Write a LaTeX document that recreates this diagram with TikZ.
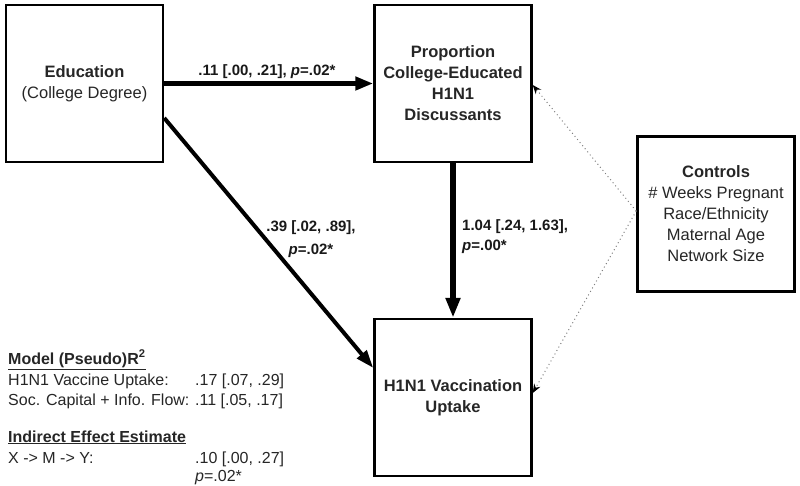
\documentclass[tikz,border=0pt]{standalone}
\usepackage{fontspec}
\setmainfont{Liberation Sans}
\usetikzlibrary{arrows.meta,calc}
\begin{document}
\begin{tikzpicture}[x=1pt,y=-1pt,
  box/.style={draw, line width=2.5pt, minimum width=157pt, minimum height=157pt,
    inner sep=0pt, align=center, text=black!85, font=\fontsize{16.5}{21}\selectfont},
  boldbox/.style={box, font=\fontsize{16.5}{21}\selectfont\bfseries},
  lab/.style={inner sep=0pt, text=black!90, font=\fontsize{15}{22}\selectfont\bfseries},
  mt/.style={inner sep=0pt, anchor=base west, text=black!85, font=\fontsize{16}{20}\selectfont},
  dotarrow/.style={draw=black!50, line width=1pt, dash pattern=on 1pt off 3pt,
    -{Stealth[length=9pt,width=7pt,color=black]}}
]
\useasboundingbox (0,0) rectangle (800,486);

% boxes
\node[box] (edu) at (84.5,83.5) {\textbf{Education}\\(College Degree)};
\node[boldbox] (prop) at (453,83.5) {Proportion\\College-Educated\\H1N1\\Discussants};
\node[boldbox] (vac) at (453,397.5) {H1N1 Vaccination\\Uptake};
\node[box, minimum height=155pt] (ctrl) at (716,214)
  {\textbf{Controls}\\\# Weeks Pregnant\\Race/Ethnicity\\Maternal Age\\Network Size};

% solid arrows
\draw[line width=5pt, -{Triangle[length=18pt,width=13pt]}] (edu) -- (prop);
\draw[line width=6pt, -{Triangle[length=20pt,width=14pt]}] (prop) -- (vac);
\draw[line width=4pt, -{Triangle[length=18pt,width=12pt]}]
  ([yshift=-34.5pt]edu.east) -- ([yshift=29.5pt]vac.west);

% dotted arrows from controls
\coordinate (cj) at ([yshift=3pt]ctrl.west);
\draw[dotarrow] (cj) -- ([yshift=-1.5pt]prop.east);
\draw[dotarrow] (cj) -- ([yshift=4.5pt]vac.east);

% path labels
\node[lab] (l1) at (267,72) {.11 [.00, .21], \textit{p}=.02*};
\node[lab, align=center, font=\fontsize{15}{23}\selectfont\bfseries] (l2) at (311,239)
  {.39 [.02, .89],\\\textit{p}=.02*};
\node[lab, align=left, anchor=west, font=\fontsize{15}{20}\selectfont\bfseries] (l3) at (462,237)
  {1.04 [.24, 1.63],\\\textit{p}=.00*};

% model summary
\node[mt] (m1) at (8,364) {\textbf{\underline{Model (Pseudo)R\textsuperscript{2}}}};
\node[mt] (m2) at (8,385) {H1N1 Vaccine Uptake:};
\node[mt] (m2v) at (195,385) {.17 [.07, .29]};
\node[mt] (m3) at (8,405) {Soc. Capital + Info. Flow:};
\node[mt] (m3v) at (195,405) {.11 [.05, .17]};
\node[mt] (m4) at (8,442) {\textbf{\underline{Indirect Effect Estimate}}};
\node[mt] (m5) at (8,463) {X -> M -> Y:};
\node[mt] (m5v) at (195,463) {.10 [.00, .27]};
\node[mt] (m6) at (195,481) {\textit{p}=.02*};
\end{tikzpicture}
\end{document}
